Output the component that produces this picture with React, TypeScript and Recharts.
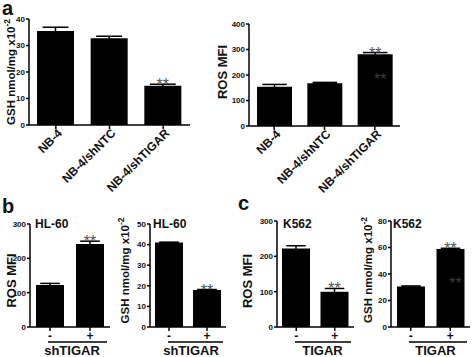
import React from 'react';
import { BarChart, Bar, XAxis, YAxis, ErrorBar, LabelList } from 'recharts';

const FONT = 'Arial, "Liberation Sans", Helvetica, sans-serif';

// panel a: NB-4 cell lines
const nbCategories = ['NB-4', 'NB-4/shNTC', 'NB-4/shTIGAR'];
const nbGsh = [35.5, 32.7, 14.8];
const nbGshErr = [1.4, 0.8, 0.6];
const nbGshSig = ['', '', '**'];
const nbRos = [154, 168, 281];
const nbRosErr = [9, 3, 7];
const nbRosSig = ['', '', '**'];
const nbRosInner = ['', '', '**'];

// panels b and c: - / +
const pmCategories = ['-', '+'];
const hlRos = [122, 242];
const hlRosErr = [5, 8];
const hlGsh = [41, 18];
const hlGshErr = [0.2, 0.2];
const k562Ros = [222, 100];
const k562RosErr = [8, 9];
const k562Gsh = [30.5, 58.8];
const k562GshErr = [0.5, 0.6];
const pmSig = ['', '**'];
const k562GshInner = ['', '**'];

const ticks40 = [0, 10, 20, 30, 40];
const ticks50 = [0, 10, 20, 30, 40, 50];
const ticks80 = [0, 20, 40, 60, 80];
const ticks300 = [0, 100, 200, 300];
const ticks400 = [0, 100, 200, 300, 400];

const rowsOf = (cats: string[], vals: number[], errs: number[], sig: string[], inner?: string[]) =>
  cats.map((name, i) => ({ name, value: vals[i], err: errs[i], sig: sig[i], inner: inner ? inner[i] : '' }));

type PanelProps = {
  rows: any[];
  left: number;
  top: number;
  width: number;
  height: number;
  plotTop: number;
  right: number;
  xHeight: number;
  yWidth: number;
  domain: [number, number];
  ticks: number[];
  yLabel: string;
  sup?: string;
  labelX: number;
  labelDy: number;
  barSize: number;
  rotated?: boolean;
  group?: string;
  groupDx?: number;
  title?: string;
  titleDx?: number;
  titleY?: number;
  innerFrac?: number;
};

const Panel = (p: PanelProps) => {
  const plotLeft = p.yWidth;
  const plotRight = p.width - p.right;
  const plotTop = p.plotTop;
  const axisY = p.height - p.xHeight;
  const cy = (plotTop + axisY) / 2 + p.labelDy;

  const yLabelContent = () => (
    <g>
      <text
        transform={`translate(${p.labelX},${cy}) rotate(-90)`}
        textAnchor="middle"
        fontSize={p.sup ? 11.5 : 13}
        fontWeight="bold"
        fontFamily={FONT}
        fill="#111"
      >
        {p.yLabel}
        {p.sup && (
          <tspan dy={-5} fontSize={8.5}>
            {p.sup}
          </tspan>
        )}
      </text>
      {p.title && (
        <text x={plotLeft + (p.titleDx ?? 4)} y={p.titleY} fontSize={12} fontWeight="bold" fontFamily={FONT} fill="#111">
          {p.title}
        </text>
      )}
    </g>
  );

  const groupContent = () =>
    p.group ? (
      <g>
        <line x1={plotLeft + 18} x2={plotRight - 3} y1={axisY + 15} y2={axisY + 15} stroke="#000" strokeWidth={1.5} />
        <text
          x={(plotLeft + plotRight) / 2 + (p.groupDx ?? 0)}
          y={axisY + 28}
          textAnchor="middle"
          fontSize={13}
          fontWeight="bold"
          fontFamily={FONT}
          fill="#111"
        >
          {p.group}
        </text>
      </g>
    ) : null;

  const xTick = ({ x, y, payload }: any) =>
    p.rotated ? (
      <text
        transform={`translate(${x + 4},${y}) rotate(-45)`}
        textAnchor="end"
        dy="0.35em"
        fontSize={12}
        fontWeight="bold"
        fontFamily={FONT}
        fill="#111"
      >
        {payload.value}
      </text>
    ) : (
      <text x={x} y={y + 7} textAnchor="middle" fontSize={12} fontWeight="bold" fontFamily={FONT} fill="#111">
        {payload.value}
      </text>
    );

  const sigLabel = (props: any) => {
    const { x, y, width, height, index } = props;
    const row = p.rows[index];
    if (!row || !row.sig) return null;
    const errPx = (height * row.err) / row.value;
    return (
      <text x={x + width / 2} y={y - errPx + 6} textAnchor="middle" fontSize={16} fontFamily={FONT} fill="#555">
        {row.sig}
      </text>
    );
  };

  const innerLabel = (props: any) => {
    const { x, y, width, height, index } = props;
    const row = p.rows[index];
    if (!row || !row.inner) return null;
    return (
      <text
        x={x + width / 2 + 5}
        y={y + height * (p.innerFrac ?? 0.35) + 6}
        textAnchor="middle"
        fontSize={16}
        fontFamily={FONT}
        fill="#3a3a3a"
      >
        {row.inner}
      </text>
    );
  };

  return (
    <div style={{ position: 'absolute', left: p.left, top: p.top, width: p.width, height: p.height }}>
      <BarChart
        width={p.width}
        height={p.height}
        data={p.rows}
        margin={{ top: p.plotTop, right: p.right, bottom: 0, left: 0 }}
      >
        <XAxis
          dataKey="name"
          interval={0}
          axisLine={{ stroke: '#000', strokeWidth: 1.5 }}
          tickLine={{ stroke: '#000', strokeWidth: 1.5 }}
          tickSize={4}
          tick={xTick}
          height={p.xHeight}
          label={{ content: groupContent }}
        />
        <YAxis
          width={p.yWidth}
          domain={p.domain}
          ticks={p.ticks}
          interval={0}
          axisLine={{ stroke: '#000', strokeWidth: 1.5 }}
          tickLine={{ stroke: '#000', strokeWidth: 1.5 }}
          tickSize={3}
          tickMargin={1}
          tick={{ fontSize: 8, fontWeight: 'bold', fill: '#111', fontFamily: FONT }}
          label={{ content: yLabelContent }}
        />
        <Bar dataKey="value" fill="#000" barSize={p.barSize} isAnimationActive={false}>
          <ErrorBar dataKey="err" direction="y" width={p.barSize * 0.35} stroke="#000" strokeWidth={1.5} isAnimationActive={false} />
          <LabelList dataKey="sig" content={sigLabel} />
          <LabelList dataKey="inner" content={innerLabel} />
        </Bar>
      </BarChart>
    </div>
  );
};

export default function App() {
  return (
    <div style={{ position: 'absolute', left: 0, top: 0, width: 472, height: 357, background: '#fff', overflow: 'hidden' }}>
      <Panel
        rows={rowsOf(nbCategories, nbGsh, nbGshErr, nbGshSig)}
        left={0}
        top={0}
        width={200}
        height={200}
        plotTop={19}
        right={10}
        xHeight={75}
        yWidth={29}
        domain={[0, 40]}
        ticks={ticks40}
        yLabel="GSH nmol/mg x10"
        sup="-2"
        labelX={15}
        labelDy={0}
        barSize={37}
        rotated
      />
      <Panel
        rows={rowsOf(nbCategories, nbRos, nbRosErr, nbRosSig, nbRosInner)}
        left={200}
        top={0}
        width={272}
        height={200}
        plotTop={24}
        right={72}
        xHeight={74}
        yWidth={49}
        domain={[0, 400]}
        ticks={ticks400}
        yLabel="ROS MFI"
        labelX={27}
        labelDy={-3}
        barSize={35}
        rotated
        innerFrac={0.34}
      />
      <Panel
        rows={rowsOf(pmCategories, hlRos, hlRosErr, pmSig)}
        left={0}
        top={195}
        width={112}
        height={162}
        plotTop={29}
        right={2}
        xHeight={30}
        yWidth={30}
        domain={[0, 300]}
        ticks={ticks300}
        yLabel="ROS MFI"
        labelX={16}
        labelDy={5}
        barSize={28}
        group="shTIGAR"
        groupDx={2}
        title="HL-60"
        titleDx={5}
        titleY={33}
      />
      <Panel
        rows={rowsOf(pmCategories, hlGsh, hlGshErr, pmSig)}
        left={112}
        top={195}
        width={124}
        height={162}
        plotTop={29}
        right={10}
        xHeight={30}
        yWidth={38}
        domain={[0, 50]}
        ticks={ticks50}
        yLabel="GSH nmol/mg x10"
        sup="-2"
        labelX={17}
        labelDy={-5}
        barSize={28}
        group="shTIGAR"
        groupDx={3}
        title="HL-60"
        titleDx={3}
        titleY={33}
      />
      <Panel
        rows={rowsOf(pmCategories, k562Ros, k562RosErr, pmSig)}
        left={236}
        top={195}
        width={118}
        height={162}
        plotTop={26}
        right={0}
        xHeight={30}
        yWidth={41}
        domain={[0, 300]}
        ticks={ticks300}
        yLabel="ROS MFI"
        labelX={16}
        labelDy={7}
        barSize={28}
        group="TIGAR"
        groupDx={7}
        title="K562"
        titleDx={6}
        titleY={33}
      />
      <Panel
        rows={rowsOf(pmCategories, k562Gsh, k562GshErr, pmSig, k562GshInner)}
        left={354}
        top={195}
        width={118}
        height={162}
        plotTop={26}
        right={2}
        xHeight={30}
        yWidth={37}
        domain={[0, 80]}
        ticks={ticks80}
        yLabel="GSH nmol/mg x10"
        sup="-2"
        labelX={18}
        labelDy={-4}
        barSize={28}
        group="TIGAR"
        groupDx={5}
        title="K562"
        titleDx={2}
        titleY={33}
        innerFrac={0.43}
      />
      <svg width={472} height={357} style={{ position: 'absolute', left: 0, top: 0, pointerEvents: 'none' }}>
        <text x={2} y={15} fontSize={20} fontWeight="bold" fontFamily={FONT} fill="#111">a</text>
        <text x={2} y={213} fontSize={20} fontWeight="bold" fontFamily={FONT} fill="#111">b</text>
        <text x={238} y={210} fontSize={20} fontWeight="bold" fontFamily={FONT} fill="#111">c</text>
      </svg>
    </div>
  );
}
